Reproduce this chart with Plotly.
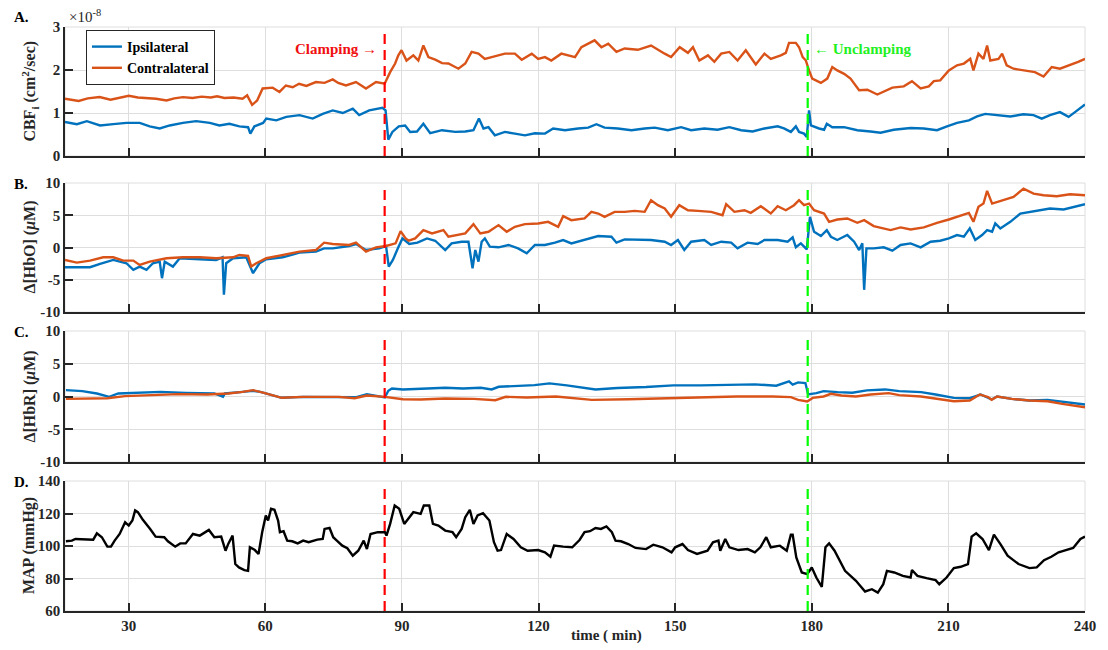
import plotly.graph_objects as go

# ---------------------------------------------------------------------------
# Event times (min)
CLAMP_T = 86.2
UNCLAMP_T = 179.1

# Panel A: blood flow index (units of 1e-8 cm^2/s)
CBF_SCALE = 1e-8
T_CBF_IPSI = [
    16, 18.6, 20.8, 23.7, 26.6, 29.5, 32.4, 34.6, 36.8, 39,
    41.9, 44.8, 47.8, 49.9, 52.1, 54.3, 56.2, 56.7, 57.6, 59.5,
    60.2, 62.4, 64.6, 67.5, 70.4, 72.6, 74.8, 77, 79.2, 80.6,
    82.8, 85.7, 86.4, 87, 87.9, 89.3, 90.7, 91.8, 93.3, 94.7,
    96.2, 98.8, 101.7, 103.9, 105.7, 106.9, 107.9, 109, 110.4, 112.6,
    114.8, 117, 119.2, 121.4, 123.2, 125.8, 128.7, 130.9, 132.7, 134.5,
    137.4, 140.4, 143.3, 145.5, 148.4, 151.3, 153.5, 156.4, 159.3, 161.9,
    164.5, 167, 169.6, 172.5, 173.9, 175.4, 176.5, 177.2, 178.3, 178.9,
    179.4, 179.8, 181.6, 182.7, 183.3, 184.5, 187.1, 190, 192.9, 195.1,
    198, 201.7, 204.6, 207.5, 209.7, 211.9, 214.5, 216.3, 218.1, 220.7,
    223.6, 226.5, 228.7, 230.5, 232.3, 234.5, 236.4, 237.8, 239.6, 240]
CBF_IPSI = [
    0.79, 0.74, 0.81, 0.71, 0.74, 0.77, 0.77, 0.69, 0.64, 0.71,
    0.77, 0.81, 0.77, 0.71, 0.75, 0.69, 0.67, 0.52, 0.69, 0.77,
    0.87, 0.83, 0.91, 0.95, 0.87, 0.98, 1.06, 1.00, 1.10, 0.95,
    1.06, 1.12, 1.06, 0.38, 0.56, 0.69, 0.71, 0.56, 0.57, 0.75,
    0.53, 0.60, 0.56, 0.57, 0.60, 0.87, 0.64, 0.67, 0.48, 0.56,
    0.52, 0.48, 0.53, 0.52, 0.64, 0.60, 0.64, 0.66, 0.74, 0.66,
    0.64, 0.60, 0.64, 0.66, 0.60, 0.67, 0.60, 0.64, 0.61, 0.67,
    0.60, 0.57, 0.64, 0.69, 0.64, 0.56, 0.69, 0.56, 0.52, 0.44,
    1.06, 0.71, 0.64, 0.61, 0.75, 0.67, 0.67, 0.60, 0.57, 0.54,
    0.61, 0.65, 0.64, 0.60, 0.69, 0.77, 0.83, 0.92, 0.98, 0.95,
    0.92, 0.97, 0.95, 0.87, 0.95, 1.02, 0.91, 1.02, 1.18, 1.20]

T_CBF_CONTRA = [
    16, 19, 21, 23.6, 26, 28, 30, 32, 33.9, 36,
    38.3, 40, 41.9, 44, 46, 48, 49.4, 51, 53, 55,
    56, 57.1, 58.2, 59.4, 61.6, 63.1, 64.5, 66, 67.4, 69,
    71.1, 73, 74.8, 76, 77.7, 79.9, 82.1, 84.3, 86.2, 87.4,
    88.5, 89.2, 89.9, 91, 92.5, 93.6, 94.7, 95.8, 97.3, 98.8,
    100.2, 101.7, 102.4, 103.9, 105.3, 106.8, 108.2, 109.7, 111.2, 112.6,
    114.8, 116.3, 118.5, 119.9, 121.4, 122.8, 125, 126.5, 128, 129.4,
    130.9, 132.3, 133.8, 135.3, 137.1, 138.9, 141.8, 144.7, 147.7, 149.1,
    151, 152.8, 153.9, 155.3, 157.2, 158.6, 160.1, 161.9, 163.7, 165.5,
    167.7, 169.6, 171, 173.2, 174.3, 175, 176.5, 177.2, 178, 178.7,
    179.4, 180.1, 182, 183.4, 184.5, 185.6, 187.1, 188.5, 190.4, 192.2,
    194.4, 195.8, 197.7, 200.2, 202, 203.9, 205.7, 206.8, 208.2, 210.1,
    211.9, 213.4, 214.8, 215.5, 216.6, 217.7, 218.5, 219.2, 221, 221.8,
    222.8, 224.3, 226.5, 229, 230.9, 232.7, 234.5, 236.7, 238.5, 240]
CBF_CONTRA = [
    1.33, 1.28, 1.34, 1.37, 1.31, 1.36, 1.40, 1.36, 1.35, 1.33,
    1.29, 1.34, 1.37, 1.35, 1.38, 1.36, 1.39, 1.35, 1.36, 1.33,
    1.41, 1.19, 1.29, 1.57, 1.59, 1.49, 1.64, 1.60, 1.68, 1.63,
    1.72, 1.70, 1.78, 1.70, 1.64, 1.72, 1.57, 1.72, 1.68, 1.95,
    2.15, 2.34, 2.46, 2.22, 2.34, 2.22, 2.57, 2.30, 2.24, 2.16,
    2.15, 2.07, 2.03, 2.15, 2.42, 2.38, 2.26, 2.30, 2.34, 2.38,
    2.38, 2.24, 2.38, 2.26, 2.30, 2.22, 2.38, 2.34, 2.30, 2.53,
    2.61, 2.69, 2.53, 2.61, 2.42, 2.50, 2.47, 2.57, 2.38, 2.30,
    2.53, 2.40, 2.53, 2.22, 2.34, 2.19, 2.38, 2.42, 2.22, 2.46,
    2.13, 2.38, 2.26, 2.34, 2.40, 2.63, 2.63, 2.53, 2.30, 2.22,
    1.99, 1.80, 1.70, 1.80, 2.07, 1.99, 1.91, 1.80, 1.53, 1.54,
    1.43, 1.49, 1.59, 1.62, 1.74, 1.57, 1.62, 1.74, 1.76, 1.99,
    2.11, 2.15, 2.26, 1.99, 2.38, 2.26, 2.57, 2.22, 2.26, 2.38,
    2.11, 2.03, 1.99, 1.95, 1.85, 2.07, 2.03, 2.11, 2.19, 2.26]

# Panel B: oxy-haemoglobin change (uM)
T_HBO_IPSI = [
    16, 18.6, 21.5, 23.7, 26.6, 29.5, 31, 32.4, 33.9, 35.3,
    36.8, 37.3, 37.9, 39.7, 41.2, 45.6, 49.2, 50.6, 50.9, 51.4,
    52.9, 55.8, 57.3, 58.7, 60.2, 63.8, 67.5, 71.1, 72.9, 74.8,
    78.4, 79.9, 82.1, 85, 86.5, 87.1, 88, 89.1, 90.1, 91.6,
    93.4, 95.5, 97.3, 99.5, 100.9, 103.1, 104.6, 105.5, 106.1, 106.8,
    107.5, 108.2, 109.3, 111.2, 113.4, 115.5, 117.4, 119.2, 121.4, 123.6,
    125.4, 127.2, 130.1, 133.1, 136, 137.1, 138.9, 141.8, 144.7, 147.7,
    149.1, 150.6, 152, 153.5, 156.4, 157.9, 160.1, 162.3, 163.7, 165.9,
    168.1, 169.6, 172.5, 174.7, 175.8, 176.5, 177.6, 178.9, 179.2, 179.6,
    180.5, 182, 183.3, 184.2, 185.6, 187.8, 189.3, 190.4, 191.1, 191.5,
    192, 193.6, 195.8, 197.7, 199.5, 201.7, 203.9, 206.1, 208.2, 210.1,
    211.9, 213.4, 214.7, 215.9, 217.4, 218.5, 219.6, 220.3, 221.4, 223.6,
    225.8, 228, 230.1, 232.3, 235.3, 237.4, 240]
HBO_IPSI = [
    -3.06, -3.06, -3.06, -2.54, -1.93, -2.44, -3.47, -2.96, -3.47, -2.44,
    -2.19, -4.76, -2.19, -2.96, -1.67, -1.83, -1.93, -1.52, -7.33, -2.44,
    -1.67, -1.52, -3.98, -2.44, -1.83, -1.52, -0.80, -0.64, -0.13, -0.13,
    0.23, 0.54, -0.39, -0.13, 0.23, -2.96, -1.93, -0.13, 1.41, 0.54,
    0.75, 1.41, 1.05, -0.39, 0.64, 0.90, 0.90, -3.21, -0.39, -2.19,
    0.90, 1.41, 0.13, 0.03, 0.39, -0.13, -0.90, 0.39, 0.39, 0.75,
    1.16, 0.64, 1.16, 1.77, 1.67, 0.75, 1.26, 1.16, 1.16, 0.90,
    0.39, 1.16, -0.39, 0.90, 1.16, 0.39, 0.90, 0.75, -0.13, 0.75,
    0.54, 1.16, 1.16, 0.90, 1.57, 0.03, 0.64, -0.28, 1.67, 4.76,
    2.44, 1.77, 2.70, 1.67, 1.16, 1.93, 0.90, -0.39, 0.64, -6.56,
    -0.13, -0.13, 0.03, -0.49, 0.39, 0.64, 0.03, 0.90, 1.05, 1.41,
    1.93, 1.67, 2.96, 1.16, 1.93, 2.70, 2.44, 3.73, 2.96, 3.98,
    5.27, 5.53, 5.78, 6.04, 5.89, 6.30, 6.71]

T_HBO_CONTRA = [
    16, 18.6, 21.5, 24.4, 26.6, 28.8, 31, 32.4, 34.6, 38.3,
    41.9, 45.6, 49.2, 52.9, 54.3, 56.2, 56.9, 58, 60.2, 63.8,
    67.5, 71.1, 72.9, 74.8, 78.4, 79.9, 82.1, 84.3, 86.5, 88.6,
    89.7, 90.8, 91.5, 92.9, 94.7, 96.6, 99.1, 100.2, 102.4, 103.9,
    105.7, 107.2, 109, 111.2, 113, 114.8, 117, 119.9, 122.1, 124.3,
    125.4, 127.2, 130.1, 131.6, 133.1, 134.5, 136.7, 138.9, 141.1, 143.3,
    144.7, 146.2, 147.7, 149.1, 150.9, 152.8, 155, 157.9, 160.4, 161.2,
    163, 165.2, 166.6, 168.8, 171, 172.5, 174.3, 176.1, 177.2, 178.3,
    179.4, 180.5, 182.7, 183.8, 185.6, 187.8, 190, 191.5, 193.6, 197.3,
    199.5, 201.7, 204.6, 207.5, 210.1, 212.3, 214.5, 215.5, 216.6, 217.7,
    218.5, 219.6, 222.1, 224.3, 226.5, 228.7, 230.9, 233.8, 236.7, 240]
HBO_CONTRA = [
    -1.93, -2.34, -2.03, -1.52, -1.52, -2.03, -2.03, -2.70, -2.19, -1.67,
    -1.52, -1.52, -1.67, -1.52, -1.16, -1.31, -2.96, -2.44, -1.67, -1.16,
    -0.64, -0.39, 0.75, 0.54, 0.39, 0.75, -0.64, 0.03, 0.23, 0.64,
    2.54, 1.41, 1.05, 1.41, 2.70, 2.19, 2.70, 1.67, 1.93, 2.19,
    3.62, 2.19, 2.44, 3.47, 2.44, 3.21, 3.62, 3.73, 3.98, 3.21,
    4.86, 4.24, 4.50, 5.53, 5.27, 4.76, 5.53, 5.53, 5.68, 5.53,
    7.33, 6.56, 6.04, 4.76, 6.56, 5.78, 5.68, 5.53, 5.01, 6.71,
    5.53, 5.78, 5.37, 6.40, 5.27, 6.40, 5.78, 6.56, 7.33, 6.56,
    6.81, 5.78, 5.27, 3.98, 4.34, 4.50, 3.83, 4.24, 3.32, 2.70,
    3.11, 2.80, 3.11, 3.83, 4.34, 4.86, 5.37, 3.98, 6.30, 6.81,
    8.77, 6.81, 7.33, 7.84, 9.13, 8.35, 8.10, 7.94, 8.25, 8.10]

# Panel C: deoxy-haemoglobin change (uM)
T_HBR_IPSI = [
    16.2, 19.8, 23, 25.7, 27.7, 31.6, 37, 42.5, 48.8, 50.7,
    51.1, 55, 57.3, 58.9, 61.25, 63.6, 68.3, 76.1, 80, 82.3,
    84.7, 86.25, 87, 87.8, 90.2, 94.1, 95.6, 99.5, 103.4, 107.3,
    109.7, 111.25, 115.2, 119.1, 122.4, 126.2, 132.5, 137.3, 143.6, 149.6,
    155.6, 161.1, 167.5, 172.2, 175, 175.8, 177, 178.6, 179.2, 181,
    182.6, 185.7, 188.9, 192.1, 196.1, 199.2, 204, 207.2, 211.2, 214.7,
    217.1, 219.5, 220.7, 223.9, 227.8, 231.8, 235.8, 240]
HBR_IPSI = [
    0.97, 0.82, 0.46, -0.05, 0.46, 0.56, 0.71, 0.56, 0.46, -0.05,
    0.46, 0.71, 0.87, 0.71, 0.20, -0.20, -0.05, -0.05, -0.10, 0.36,
    0.05, -0.15, 0.87, 1.22, 1.07, 1.12, 1.22, 1.33, 1.22, 1.33,
    1.07, 1.48, 1.63, 1.73, 2.00, 1.70, 1.08, 1.29, 1.44, 1.70,
    1.70, 1.80, 1.85, 1.65, 2.31, 1.80, 2.16, 2.06, 0.31, 0.51,
    0.82, 0.67, 0.57, 0.93, 1.08, 0.82, 0.67, 0.31, -0.21, -0.26,
    0.31, -0.46, 0.00, -0.36, -0.62, -0.51, -0.87, -1.23]

T_HBR_CONTRA = [
    16.2, 21.4, 25.3, 29.2, 34.7, 40.9, 47.2, 51.9, 55, 57.3,
    59.7, 62, 63.6, 68.3, 76.1, 79.6, 82.3, 86.25, 90.2, 94.1,
    99.5, 105.8, 110.5, 112.8, 117.4, 123.8, 131.7, 139.7, 147.6, 155.6,
    163.5, 171.4, 175.4, 177, 179, 180.2, 182.6, 184.2, 186.5, 189.7,
    192.9, 196.9, 199.2, 204, 207.2, 211.2, 214.7, 216.9, 218.7, 219.5,
    220.7, 223.9, 227.8, 231.8, 235, 240]
HBR_CONTRA = [
    -0.36, -0.36, -0.26, 0.05, 0.20, 0.36, 0.31, 0.46, 0.71, 0.97,
    0.56, 0.05, -0.20, -0.05, -0.05, -0.26, 0.15, -0.05, -0.41, -0.46,
    -0.31, -0.36, -0.56, -0.05, -0.15, 0.00, -0.51, -0.41, -0.26, -0.10,
    0.00, 0.00, -0.10, -0.51, -0.77, -0.21, 0.00, 0.41, 0.15, 0.00,
    0.31, 0.51, 0.21, 0.00, -0.36, -0.72, -0.62, 0.31, -0.10, -0.51,
    0.00, -0.36, -0.62, -0.72, -1.13, -1.65]

# Panel D: mean arterial pressure (mmHg)
T_MAP = [
    16.2, 17.5, 18.3, 20.6, 22.2, 23, 24.1, 25.3, 26.1, 26.9,
    28, 29.2, 30, 30.8, 31.4, 32, 33.1, 34.7, 35.9, 37.8,
    38.6, 40.2, 41.3, 42.5, 44.1, 45.6, 46.8, 47.6, 48.8, 50.3,
    51.25, 51.9, 52.8, 53.4, 54.2, 55.4, 56.2, 56.6, 57.7, 58.5,
    59.3, 60.1, 60.6, 61.25, 62, 62.8, 63.2, 64, 64.8, 65.9,
    67.1, 68.3, 69.5, 71.4, 72.6, 73, 74.1, 74.9, 75.7, 76.9,
    78, 79.2, 80.4, 81.6, 82.3, 83.1, 84.7, 86.25, 86.6, 87.4,
    88.4, 89.4, 90.5, 91.7, 92.5, 94.1, 94.8, 96, 96.8, 98,
    99.5, 101.1, 101.9, 103.1, 103.9, 104.9, 105.7, 106.6, 107.8, 109.2,
    110.2, 111, 111.75, 113, 114.5, 116.1, 117.6, 119.9, 121.4, 122.6,
    123.4, 125.4, 127.4, 129, 130.1, 131.3, 132.5, 133.7, 134.9, 136.1,
    136.9, 138.1, 139.7, 141.3, 143.6, 145.2, 147.2, 149.2, 150, 151.6,
    152.8, 154.8, 157.1, 158.3, 159.5, 159.9, 161, 161.9, 163.9, 165.9,
    167.5, 168.7, 170, 171, 173, 174.5, 175.4, 175.8, 176.6, 177.8,
    179, 180, 181, 182.2, 183, 183.8, 185, 187.3, 189.7, 191.7,
    193.2, 194.5, 195.7, 196.5, 198.1, 200, 201.7, 202, 203.2, 205.2,
    207.2, 208, 209.6, 211.2, 212.7, 214.3, 215.1, 216.1, 217.5, 218.9,
    220, 221.5, 223, 225.4, 227.8, 229.4, 231, 232.6, 234.2, 235.8,
    237.4, 239, 240]
MAP = [
    102.9, 103.3, 104.3, 104.3, 103.9, 107.8, 105.4, 99.6, 99.6, 103.3,
    107.4, 114.6, 112.6, 115.7, 121.9, 120.8, 116.1, 110.5, 105.8, 105.4,
    102.9, 99.6, 101.6, 101.6, 107.4, 106.4, 108.5, 109.9, 105.4, 105.8,
    97.1, 101.6, 106.4, 88.9, 86.8, 85.2, 84.7, 99.2, 97.5, 95.1,
    108.5, 118.8, 115.7, 122.9, 122.3, 115.7, 108.5, 109.1, 103.3, 102.9,
    101.6, 103.3, 102.3, 103.9, 104.3, 110.5, 111.1, 105.4, 103.3, 100.2,
    98.6, 94.0, 97.1, 103.3, 98.1, 107.4, 108.5, 108.5, 106.4, 113.6,
    124.9, 122.9, 113.6, 117.7, 120.8, 119.8, 124.9, 124.9, 113.6, 112.6,
    109.5, 108.5, 105.4, 110.5, 117.7, 122.3, 113.6, 118.8, 120.2, 115.7,
    102.3, 97.1, 97.5, 107.4, 104.3, 99.2, 97.1, 97.5, 96.1, 93.4,
    100.2, 99.6, 99.2, 103.7, 108.5, 109.1, 111.1, 110.5, 112.0, 108.5,
    103.3, 102.9, 101.2, 98.8, 98.1, 100.8, 99.2, 96.1, 99.2, 101.2,
    97.5, 95.1, 97.1, 102.3, 103.3, 97.1, 104.3, 99.2, 97.5, 98.1,
    96.1, 99.2, 105.4, 99.2, 100.2, 97.1, 107.0, 107.0, 93.0, 83.7,
    82.7, 86.8, 80.6, 74.8, 99.2, 101.6, 97.1, 84.7, 78.6, 72.0,
    73.4, 71.3, 76.5, 84.7, 83.7, 81.6, 80.6, 85.2, 81.6, 80.2,
    79.0, 76.5, 80.6, 86.4, 87.2, 88.9, 105.8, 107.8, 104.3, 97.5,
    107.0, 100.8, 94.0, 88.9, 86.4, 86.8, 91.3, 93.4, 96.1, 97.5,
    98.8, 104.3, 105.8]

X_TICKS = [30, 60, 90, 120, 150, 180, 210, 240]
CBF_TICKS = [0, 1, 2, 3]
HB_TICKS = [-10, -5, 0, 5, 10]
MAP_TICKS = [60, 80, 100, 120, 140]

for t, v in [(T_CBF_IPSI, CBF_IPSI), (T_CBF_CONTRA, CBF_CONTRA),
             (T_HBO_IPSI, HBO_IPSI), (T_HBO_CONTRA, HBO_CONTRA),
             (T_HBR_IPSI, HBR_IPSI), (T_HBR_CONTRA, HBR_CONTRA),
             (T_MAP, MAP)]:
    assert len(t) == len(v)

# ---------------------------------------------------------------------------
BLUE = "#0072BD"
ORANGE = "#D95319"
AX = "#262626"
GRID = "#DEDEDE"
SERIF = "Liberation Serif, Times New Roman, serif"

W, H = 1108, 650
ML, MR, MT, MB = 65, 20, 27, 39
PW, PH = W - ML - MR, H - MT - MB


def py(p):
    """Pixel row -> paper y."""
    return (H - MB - p) / PH


def pxx(p):
    """Pixel column -> paper x."""
    return (p - ML) / PW


panels = [  # (top px, bottom px)
    (27, 156), (183, 312), (331, 462), (481, 611)]

fig = go.Figure()


def line(x, y, color, name, ax, legend=False, width=2.4):
    fig.add_trace(go.Scatter(
        x=x, y=y, mode="lines", name=name, showlegend=legend,
        line=dict(color=color, width=width),
        xaxis="x" if ax == 1 else f"x{ax}",
        yaxis="y" if ax == 1 else f"y{ax}"))


line(T_CBF_IPSI, [v * CBF_SCALE for v in CBF_IPSI], BLUE, "Ipsilateral", 1, True)
line(T_CBF_CONTRA, [v * CBF_SCALE for v in CBF_CONTRA], ORANGE, "Contralateral", 1, True)
line(T_HBO_IPSI, HBO_IPSI, BLUE, "Ipsilateral", 2)
line(T_HBO_CONTRA, HBO_CONTRA, ORANGE, "Contralateral", 2)
line(T_HBR_IPSI, HBR_IPSI, BLUE, "Ipsilateral", 3)
line(T_HBR_CONTRA, HBR_CONTRA, ORANGE, "Contralateral", 3)
line(T_MAP, MAP, "#000000", "MAP", 4)

tickfont = dict(family=SERIF, size=15, color=AX, weight="bold")
layout = dict(
    width=W, height=H,
    margin=dict(l=ML, r=MR, t=MT, b=MB),
    paper_bgcolor="white", plot_bgcolor="white",
    font=dict(family=SERIF, color=AX),
    legend=dict(x=pxx(86), y=py(30), xanchor="left", yanchor="top",
                bgcolor="white", bordercolor=AX, borderwidth=1,
                font=dict(family=SERIF, size=14, color="#000000", weight="bold"),
                tracegroupgap=0, itemwidth=30),
)

y_specs = [
    dict(range=[0, 3 * CBF_SCALE], tickvals=[v * CBF_SCALE for v in CBF_TICKS],
         ticktext=[str(v) for v in CBF_TICKS]),
    dict(range=[-10, 10], tickvals=HB_TICKS, ticktext=[str(v) for v in HB_TICKS]),
    dict(range=[-10, 10], tickvals=HB_TICKS, ticktext=[str(v) for v in HB_TICKS]),
    dict(range=[60, 140], tickvals=MAP_TICKS, ticktext=[str(v) for v in MAP_TICKS]),
]

for i, ((top, bot), ys) in enumerate(zip(panels, y_specs), start=1):
    sfx = "" if i == 1 else str(i)
    layout[f"xaxis{sfx}"] = dict(
        domain=[0, 1], anchor=f"y{sfx}", range=[16, 240],
        tickvals=X_TICKS, ticktext=[str(v) for v in X_TICKS],
        showticklabels=(i == 4), tickfont=tickfont,
        ticks="inside", ticklen=8, tickwidth=1.5, tickcolor=AX,
        showline=True, linecolor=AX, linewidth=1.5,
        showgrid=True, gridcolor=GRID, gridwidth=1, zeroline=False,
        **({} if i == 1 else {"matches": "x"}))
    layout[f"yaxis{sfx}"] = dict(
        domain=[py(bot), py(top)], anchor=f"x{sfx}",
        tickfont=tickfont, ticks="inside", ticklen=8, tickwidth=1.5, tickcolor=AX,
        showline=True, linecolor=AX, linewidth=1.5,
        showgrid=True, gridcolor=GRID, gridwidth=1, zeroline=False, **ys)

fig.update_layout(**layout)

shapes = []
annotations = []
for i in range(1, 5):
    sfx = "" if i == 1 else str(i)
    # light frame on the top and right edges
    shapes.append(dict(type="rect", xref=f"x{sfx} domain", yref=f"y{sfx} domain",
                       x0=0, x1=1, y0=0, y1=1, layer="below",
                       line=dict(color=GRID, width=1)))
    # event markers
    for t_evt, col in [(CLAMP_T, "#FF0000"), (UNCLAMP_T, "#00FF00")]:
        shapes.append(dict(type="line", xref=f"x{sfx}", yref=f"y{sfx} domain",
                           x0=t_evt, x1=t_evt, y0=0, y1=0.95, layer="above",
                           line=dict(color=col, width=2.2, dash="10px,6px")))

fig.update_layout(shapes=shapes)

# panel letters
for (top, _), letter in zip(panels, ["A.", "B.", "C.", "D."]):
    annotations.append(dict(xref="paper", yref="paper", x=pxx(12),
                            y=py(top - 10 if letter == "A." else top + 1),
                            xanchor="left", yanchor="middle", showarrow=False, text=letter,
                            font=dict(family=SERIF, size=15, color="#000000", weight="bold")))

# y-axis titles
y_titles = ["CBF<sub>i</sub> (cm<sup>2</sup>/sec)", "Δ[HbO] (<i>μ</i>M)",
            "Δ[HbR] (<i>μ</i>M)", "MAP (mmHg)"]
for i, ttl in enumerate(y_titles, start=1):
    sfx = "" if i == 1 else str(i)
    annotations.append(dict(xref="paper", yref=f"y{sfx} domain", x=pxx(29), y=0.5,
                            xanchor="center", yanchor="middle", textangle=-90,
                            showarrow=False, text=ttl,
                            font=dict(family=SERIF, size=16, color=AX, weight="bold")))

annotations += [
    dict(xref="paper", yref="paper", x=pxx(67), y=py(16), xanchor="left", yanchor="middle",
         showarrow=False, text="×10<sup>-8</sup>",
         font=dict(family=SERIF, size=15, color=AX)),
    dict(xref="x", yref="paper", x=CLAMP_T, xshift=-6, y=py(49), xanchor="right",
         yanchor="middle", showarrow=False, text="Clamping →",
         font=dict(family=SERIF, size=15, color="#F01010", weight="bold")),
    dict(xref="x", yref="paper", x=UNCLAMP_T, xshift=4, y=py(49), xanchor="left",
         yanchor="middle", showarrow=False, text="← Unclamping",
         font=dict(family=SERIF, size=15, color="#22F022", weight="bold")),
    dict(xref="paper", yref="paper", x=pxx(608), y=py(636), xanchor="center",
         yanchor="middle", showarrow=False, text="time ( min)",
         font=dict(family=SERIF, size=15, color=AX, weight="bold")),
]
fig.update_layout(annotations=annotations)

fig.write_html("out.html")
